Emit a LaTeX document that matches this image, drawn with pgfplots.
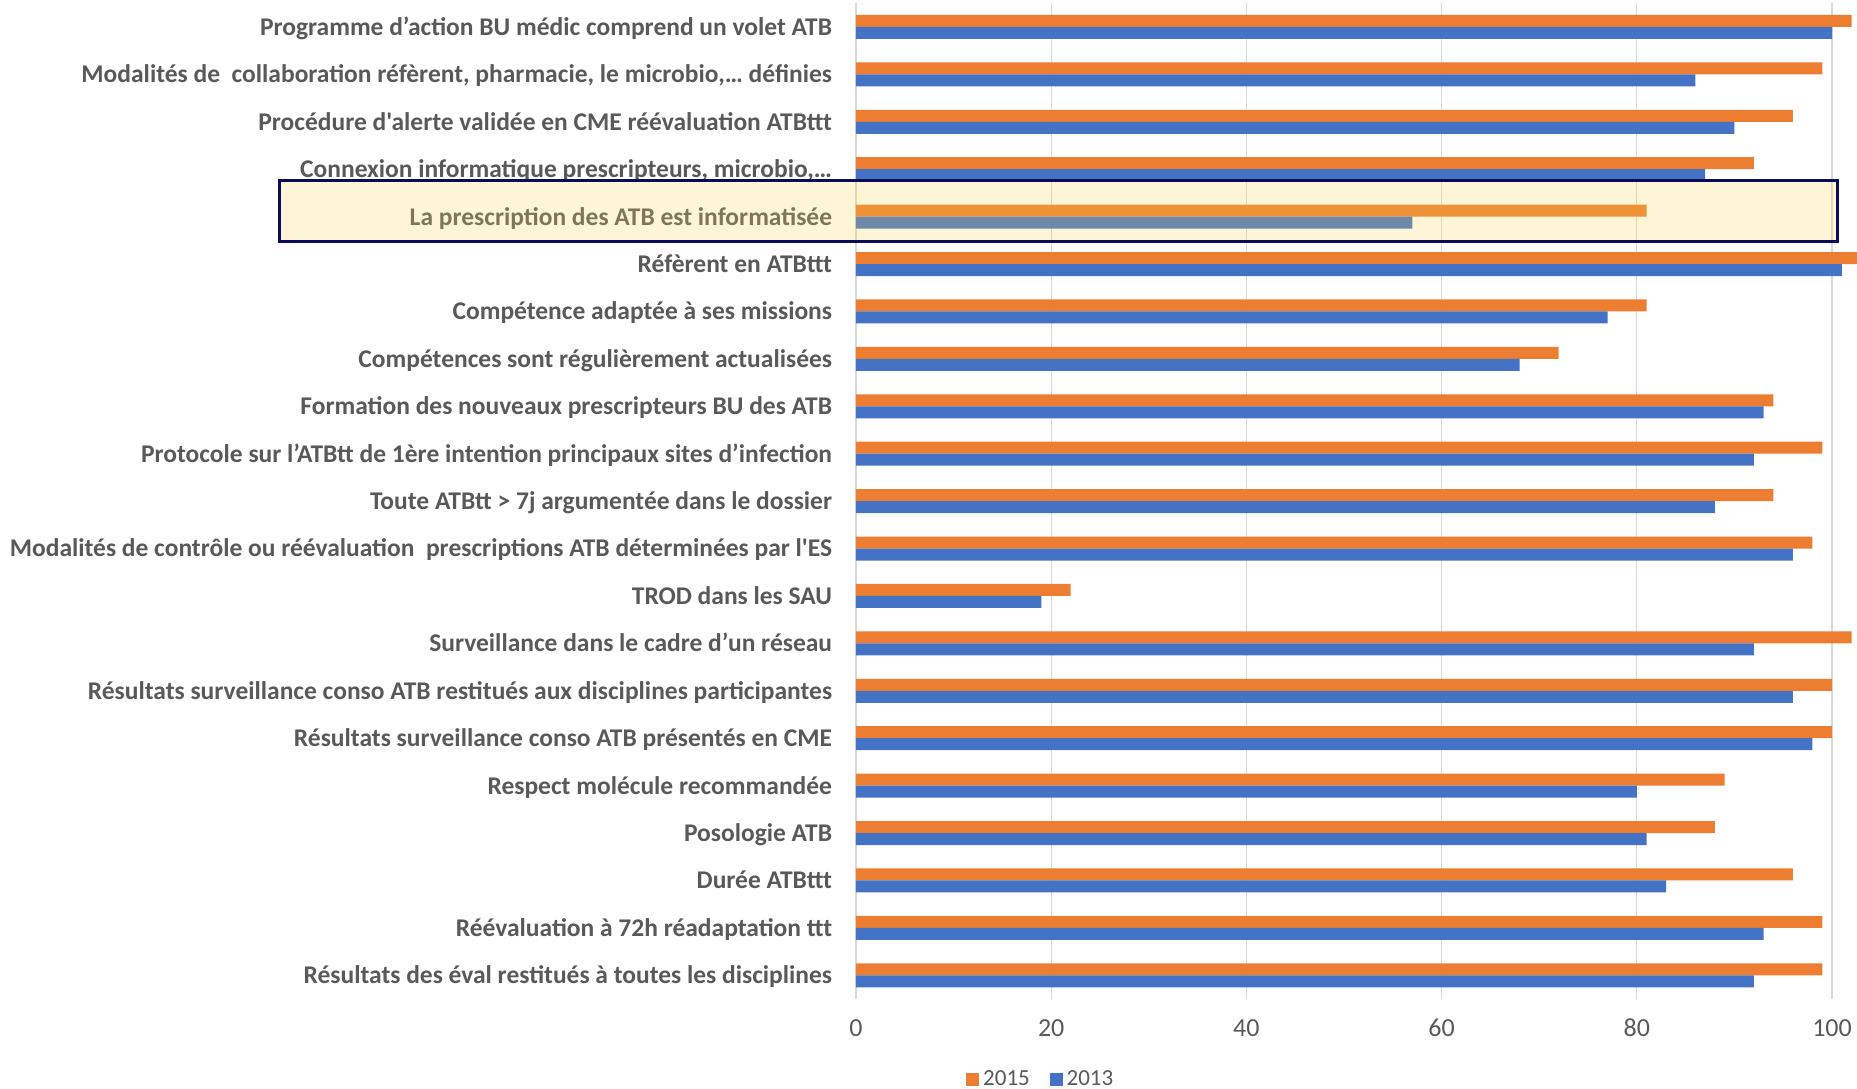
\documentclass[border=0pt]{standalone}
\usepackage{pgfplots}
\pgfplotsset{compat=1.18}
\usepackage{pgfplotstable}
\usepackage{fontspec}
\setmainfont{Carlito}[Ligatures=TeXOff]
\definecolor{c15}{HTML}{ED7D31}
\definecolor{c13}{HTML}{4472C4}
\definecolor{gridc}{HTML}{D9D9D9}
\definecolor{txt}{HTML}{595959}
\definecolor{hl}{RGB}{246,213,78}
\definecolor{navy}{HTML}{0B0B5C}

\pgfplotstableread{
y v15 v13
20 102 100
19 99 86
18 96 90
17 92 87
16 81 57
15 103 101
14 81 77
13 72 68
12 94 93
11 99 92
10 94 88
9 98 96
8 22 19
7 102 92
6 100 96
5 100 98
4 89 80
3 88 81
2 96 83
1 99 93
0 99 92
}\datatab

\begin{document}
\begin{tikzpicture}
\useasboundingbox (-428pt,-44.5pt) rectangle (500.5pt,499.5pt);
\begin{axis}[
  at={(0pt,0pt)}, anchor=south west,
  scale only axis, width=500.5pt, height=497.85pt,
  xmin=0, xmax=102.56, ymin=-0.5, ymax=20.5,
  xbar, bar width=6pt,
  xtick={0,20,40,60,80,100}, ytick={0,1,2,3,4,5,6,7,8,9,10,11,12,13,14,15,16,17,18,19,20},
  yticklabels={
    {Résultats des éval restitués à toutes les disciplines\hspace{2.5pt}},
    {Réévaluation à 72h réadaptation ttt},
    {Durée ATBttt},
    {Posologie ATB},
    {Respect molécule recommandée},
    {Résultats surveillance conso ATB présentés en CME},
    {Résultats surveillance conso ATB restitués aux disciplines participantes},
    {Surveillance dans le cadre d’un réseau},
    {TROD dans les SAU},
    {Modalités de contrôle ou réévaluation\ \ prescriptions ATB déterminées par l'ES},
    {Toute ATBtt > 7j argumentée dans le dossier\hspace{2.5pt}},
    {Protocole sur l’ATBtt de 1ère intention principaux sites d’infection},
    {Formation des nouveaux prescripteurs BU des ATB},
    {Compétences sont régulièrement actualisées},
    {Compétence adaptée à ses missions},
    {Réfèrent en ATBttt\hspace{2.5pt}},
    {La prescription des ATB est informatisée},
    {Connexion informatique prescripteurs,\ microbio,\ldots},
    {Procédure d'alerte validée en CME réévaluation ATBttt},
    {Modalités de\ \ collaboration réfèrent, pharmacie, le microbio,\ldots\ définies},
    {Programme d’action BU médic comprend un volet ATB}
  },
  xmajorgrids, major grid style={gridc, line width=0.6pt},
  axis line style={draw=none}, major tick length=0pt,
  /pgf/number format/assume math mode=true,
  tick label style={text=txt},
  x tick label style={font=\fontsize{13}{15}\selectfont, anchor=center, yshift=-14.5pt},
  y tick label style={font=\fontsize{12.75}{14}\selectfont\bfseries, anchor=base east, inner sep=0pt, xshift=-11.75pt, yshift=-4.2pt},
  legend style={at={(rel axis cs:0.1099,-0.081)}, anchor=west, draw=none, fill=none, inner sep=0pt,
    font=\fontsize{11.5}{13}\selectfont, text=txt, nodes={inner xsep=2pt, inner ysep=1pt},
    /tikz/every even column/.append style={column sep=8pt}},
  legend columns=2,
  legend image code/.code={\fill[#1,draw=none] (0pt,-3.2pt) rectangle (6.4pt,3.2pt);},
]
\addplot[fill=c15, draw=none, bar shift=3pt] table[x=v15,y=y]{\datatab};
\addplot[fill=c13, draw=none, bar shift=-3pt] table[x=v13,y=y]{\datatab};
\legend{2015,2013}
\coordinate (hA) at (axis cs:-59.07,15.477);
\coordinate (hB) at (axis cs:100.57,16.757);
\end{axis}
\fill[hl, opacity=0.24] (hA) rectangle (hB);
\draw[navy, line width=1.3pt] (hA) rectangle (hB);
\end{tikzpicture}
\end{document}
